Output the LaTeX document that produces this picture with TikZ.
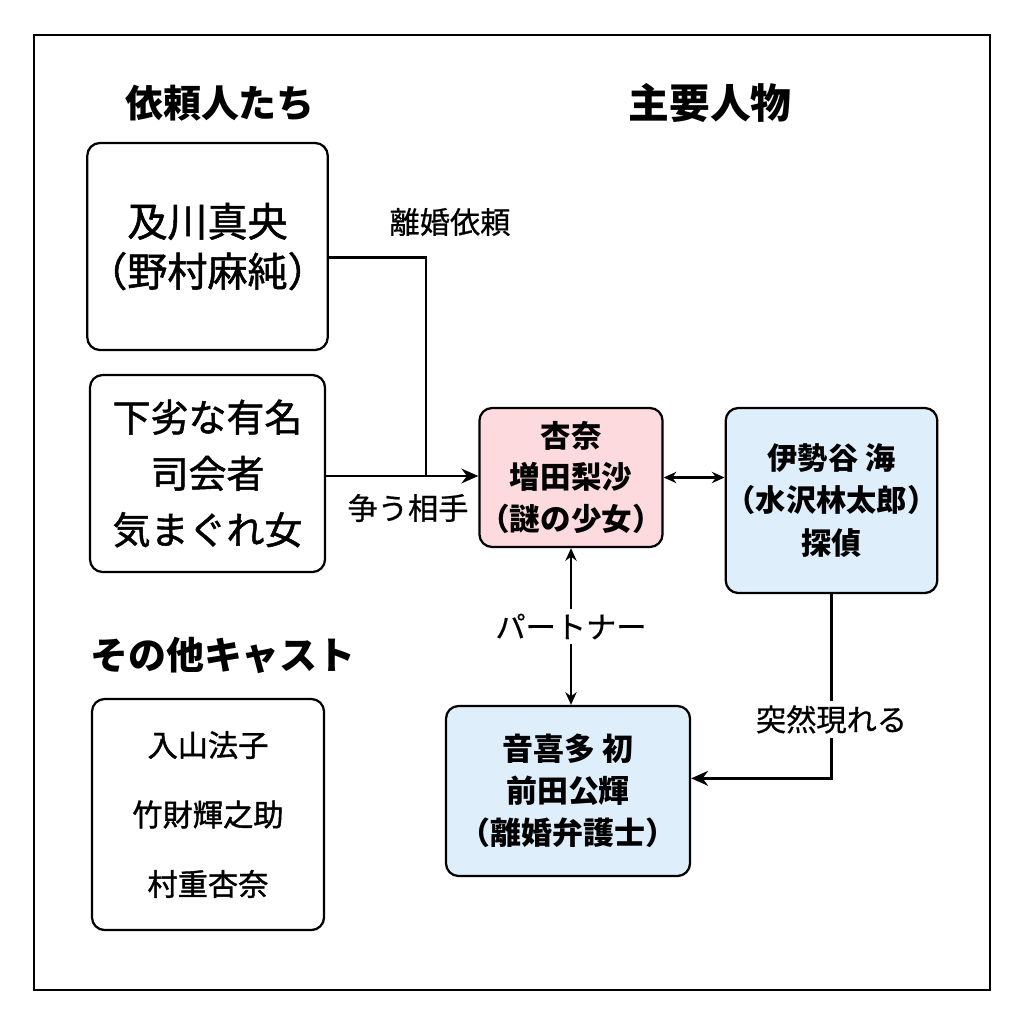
\documentclass[tikz,border=0pt]{standalone}
\usepackage{fontspec}
\setmainfont{Noto Sans CJK JP}
\newfontfamily\jpmed[FakeBold=1.3]{Noto Sans CJK JP}
\newfontfamily\jplbl[FakeBold=0.6]{Noto Sans CJK JP}
\usetikzlibrary{arrows.meta}
\definecolor{annapink}{RGB}{252,218,221}
\definecolor{castblue}{RGB}{222,238,250}

\begin{document}
\begin{tikzpicture}[x=0.025cm,y=-0.025cm,
  box/.style={draw,line width=1.6pt,rounded corners=9pt,align=center,inner sep=0pt},
  head/.style={font=\fontsize{27}{30}\selectfont\bfseries},
  lbl/.style={font=\fontsize{21.5}{24}\selectfont\jplbl,fill=white,inner sep=3pt},
  link/.style={line width=1.9pt,-{Stealth[length=12pt,width=10.5pt]}},
  dlink/.style={line width=1.9pt,{Stealth[length=9pt,width=8pt]}-{Stealth[length=9pt,width=8pt]}}]
\useasboundingbox (0,0) rectangle (1024,1024);
\fill[white] (0,0) rectangle (1024,1024);
\draw[line width=1.6pt] (34,35) rectangle (990,990);
\node[head] (hcli) at (220,103) {依頼人たち};
\node[head,font=\fontsize{29}{32}\selectfont\bfseries] (hmain) at (710,103) {主要人物};
\node[head] (hother) at (223,655) {その他キャスト};
\node[box,minimum width=5.875cm,minimum height=5.175cm,font=\fontsize{28.5}{35.5}\selectfont\jpmed] (cliA) at (207.5,246.5) {及川真央\\（野村麻純）};
\node[box,minimum width=5.875cm,minimum height=4.925cm,font=\fontsize{27}{40}\selectfont\jpmed] (cliB) at (207.5,473.5) {下劣な有名\\司会者\\気まぐれ女};
\node[box,fill=annapink,minimum width=4.4cm,minimum height=3.475cm,font=\fontsize{21.7}{29.5}\selectfont\bfseries] (anna) at (571,477.5) {杏奈\\増田梨沙\\（謎の少女）};
\node[box,fill=castblue,minimum width=5.175cm,minimum height=4.625cm,font=\fontsize{21.5}{30.5}\selectfont\bfseries] (ise) at (831.5,500.5) {伊勢谷 海\\（水沢林太郎）\\探偵};
\node[box,fill=castblue,minimum width=6.1cm,minimum height=4.25cm,font=\fontsize{22}{30}\selectfont\bfseries] (oto) at (568,791) {音喜多 初\\前田公輝\\（離婚弁護士）};
\node[box,minimum width=5.8cm,minimum height=5.775cm,font=\fontsize{21.5}{49.4}\selectfont\jpmed] (other) at (208,814.5) {入山法子\\竹財輝之助\\村重杏奈};
\coordinate (merge) at (426,476);
\draw[line width=1.9pt] ([yshift=-7.8pt]cliA.east) -| (merge);
\draw[link] (cliB.east |- merge) -- (anna.west |- merge);
\node[lbl] (lreq) at (450,222) {離婚依頼};
\node[lbl] (lrival) at (408,508) {争う相手};
\draw[dlink] (anna.east) -- (anna.east -| ise.west);
\draw[dlink] (anna.south) -- (anna.south |- oto.north) node[midway,lbl] {パートナー};
\draw[link] (ise.south) |- ([yshift=9pt]oto.east) node[pos=0.34,lbl] {突然現れる};
\end{tikzpicture}
\end{document}
